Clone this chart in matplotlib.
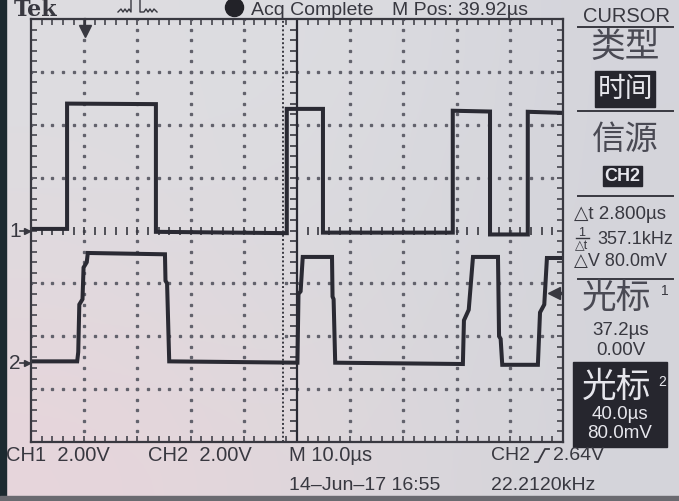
import numpy as np
import matplotlib.pyplot as plt
from matplotlib.patches import Rectangle

plt.rcParams['font.family'] = ['Liberation Sans', 'DejaVu Sans']

# scope settings
m_pos = 39.92        # us at screen centre
t_div = 10.0         # us/div
v_div = 2.0          # V/div (CH1 and CH2)
ch1_ground = 0.0     # div
ch2_ground = -2.5    # div
trig_level = 2.64    # V, CH2 rising
trig_time = 0.0      # us
cursor1_t = 37.2
cursor2_t = 40.0

# CH1 trace corners (us, V)
ch1_t = [-10.08, -3.3, -3.3, 13.4, 13.4, 38.0, 38.0, 44.8, 44.8, 69.2, 69.2,
         76.2, 76.2, 83.3, 83.3, 89.92]
ch1_v = [0.06, 0.06, 4.8, 4.78, -0.05, -0.1, 4.6, 4.6, -0.08, -0.08, 4.53,
         4.5, -0.15, -0.15, 4.49, 4.45]

# CH2 trace corners (us, V)
ch2_t = [-10.08, -1.4, -1.2, -1.0, -0.4, -0.2, 0.4, 0.6,
         15.1, 15.2, 15.5, 15.9,
         40.0, 40.2, 40.6, 41.0,
         46.5, 46.6, 46.8, 47.1,
         71.1, 71.3, 72.2, 73.0,
         77.7, 77.9, 78.2, 78.5,
         85.2, 85.6, 86.4, 86.9, 89.92]
ch2_v = [0.05, 0.05, 0.4, 2.2, 2.4, 3.6, 3.8, 4.15,
         4.1, 3.1, 3.0, 0.05,
         0.0, 2.6, 2.7, 4.0,
         4.0, 2.5, 2.4, 0.0,
         -0.05, 1.6, 2.0, 4.0,
         4.0, 1.0, 0.9, -0.08,
         -0.08, 1.9, 2.2, 3.96, 3.96]

ink = '#383840'
trace = '#2a2a33'
W, H = 679, 502

fig = plt.figure(figsize=(W / 100, H / 100), dpi=100)

# full-figure axes in pixel coords for the screen background and texts
bg = fig.add_axes([0, 0, 1, 1])
bg.set_xlim(0, W)
bg.set_ylim(H, 0)
bg.axis('off')
glow = np.array([[[221, 221, 225], [221, 221, 225], [212, 212, 219]],
                 [[224, 218, 222], [218, 218, 222], [212, 212, 218]],
                 [[231, 213, 219], [222, 216, 220], [212, 212, 218]]]) / 255
bg.imshow(glow, extent=[0, W, H, 0], interpolation='bicubic', aspect='auto')
bg.add_patch(Rectangle((0, 0), 6, H, color='#1c2a30'))
bg.add_patch(Rectangle((0, 497), W, 5, color='#6a6a70'))


def txt(x, y, s, size=14, ha='left', color=ink, va='center', **kw):
    bg.text(x, y, s, fontsize=size, ha=ha, va=va, color=color, **kw)


# top status line
bg.text(14, 16, 'Tek', fontsize=16, fontweight='bold', family='DejaVu Serif',
        color=ink, va='baseline')
bg.plot([118, 121, 123, 125, 127, 129, 131, 131, 140, 140, 144, 146, 148, 150, 152, 154, 157],
        [13, 10, 13, 10, 13, 10, 13, 0, 0, 13, 13, 10, 13, 10, 13, 10, 13],
        color=ink, lw=1)
bg.plot([234], [8], 'o', ms=13, color='#222228')
txt(251, 15, 'Acq Complete', 14, va='baseline')
txt(392, 15, 'M Pos: 39.92\u00b5s', 14, va='baseline')

# graticule
ax = fig.add_axes([31 / W, 1 - 443 / H, 532 / W, 423 / H])
ax.set_facecolor('none')
ax.set_xlim(m_pos - 5 * t_div, m_pos + 5 * t_div)
ax.set_ylim(-4, 4)
x0 = m_pos - 5 * t_div
ax.set_xticks(np.arange(x0, x0 + 10 * t_div + 0.01, t_div / 5))
ax.set_yticks(np.arange(-4, 4.01, 0.2))
ax.tick_params(direction='in', length=4.5, width=1.1, color=ink,
               top=True, right=True, labelbottom=False, labelleft=False)
for sp in ax.spines.values():
    sp.set_color(ink)
    sp.set_linewidth(1.6)

fine_x = np.arange(x0, x0 + 10 * t_div + 0.01, t_div / 5)
fine_y = np.arange(-4, 4.01, 0.2)
for i in range(1, 10):
    if i == 5:
        continue
    ax.plot(np.full_like(fine_y, x0 + i * t_div), fine_y, ls='none',
            marker='s', ms=1.4, color='#62626c')
for j in range(-3, 4):
    if j == 0:
        continue
    ax.plot(fine_x, np.full_like(fine_x, j), ls='none', marker='s', ms=1.4,
            color='#62626c')
# centre-axis ticks
ax.plot(fine_x, np.zeros_like(fine_x), ls='none', marker='|', ms=6, mew=1.2,
        color=ink)
ax.plot(np.full_like(fine_y, m_pos - 0.6), fine_y, ls='none', marker='_',
        ms=6, mew=1.2, color=ink)

# cursors
ax.axvline(cursor1_t, color=ink, lw=1.4, ls=(0, (1, 1.2)))
ax.axvline(cursor2_t, color=trace, lw=1.6)

# traces
ax.plot(ch1_t, ch1_ground + np.array(ch1_v) / v_div, color=trace, lw=2.9,
        solid_joinstyle='miter')
ax.plot(ch2_t, ch2_ground + np.array(ch2_v) / v_div, color=trace, lw=2.9,
        solid_joinstyle='miter')

# markers: trigger position, trigger level, channel grounds
ax.plot([trig_time, trig_time], [4, 3.85], color=ink, lw=1.6, clip_on=False)
ax.plot([trig_time], [3.78], marker='v', ms=9, color=ink, clip_on=False)
ax.plot([m_pos + 5 * t_div - 1.6], [ch2_ground + trig_level / v_div],
        marker='<', ms=9, color=ink)
ax.plot([m_pos + 5 * t_div - 1.6, m_pos + 5 * t_div - 0.2],
        [ch2_ground + trig_level / v_div] * 2, color=ink, lw=2.5)
for lab, g in (('1', ch1_ground), ('2', ch2_ground)):
    yy = 231.5 - g * 52.9
    txt(9, yy, lab, 15)
    bg.plot([20, 29], [yy, yy], color=ink, lw=1.2)
    bg.plot([27], [yy], marker='>', ms=5, color=ink)

# bottom status lines
txt(6, 456, 'CH1  2.00V', 14.5)
txt(148, 456, 'CH2  2.00V', 14.5)
txt(289, 456, 'M 10.0\u00b5s', 14.5)
txt(491, 456, 'CH2', 14)
bg.plot([535, 538, 545, 549], [463, 463, 450, 450], color=ink, lw=1.3)
txt(553, 456, '2.64V', 14)
txt(289, 486, '14\u2013Jun\u201317 16:55', 14)
txt(491, 486, '22.2120kHz', 14)

# right-hand cursor menu
cjk = ['Noto Sans CJK SC', 'DejaVu Sans']
cjk_ink = '#4a4a54'
light = '#e6e6ec'
box = '#26262e'
txt(627, 17, 'CURSOR', 14.5, ha='center')
for yl in (28, 112, 197, 280):
    bg.plot([578, 673], [yl, yl], color=ink, lw=1.4)
txt(625, 48, '类型', 25, ha='center', family=cjk, color=cjk_ink)
bg.add_patch(Rectangle((595, 72), 60, 36, color=box))
txt(625, 89, '时间', 20, ha='center', color=light, family=cjk)
txt(625, 139, '信源', 24, ha='center', family=cjk, color=cjk_ink)
bg.add_patch(Rectangle((603, 167), 39, 20, color=box))
txt(622, 177, 'CH2', 13, ha='center', color=light, fontweight='bold')
txt(574, 215, '\u25b3t 2.800\u00b5s', 13.5)
txt(582, 233, '1', 9, ha='center')
bg.plot([576, 589], [239, 239], color=ink, lw=1)
txt(582, 246, '\u25b3t', 9, ha='center')
txt(597, 240, '357.1kHz', 13)
txt(574, 262, '\u25b3V 80.0mV', 13)
txt(617, 298, '光标', 25, ha='center', family=cjk, color=cjk_ink)
txt(665, 291, '1', 10, ha='center')
txt(621, 331, '37.2\u00b5s', 13.5, ha='center')
txt(621, 351, '0.00V', 13.5, ha='center')
bg.add_patch(Rectangle((573, 363), 94, 85, color=box))
txt(617, 387, '光标', 25, ha='center', color=light, family=cjk)
txt(662, 382, '2', 10, ha='center', color=light)
txt(620, 415, '40.0\u00b5s', 13.5, ha='center', color=light)
txt(620, 434, '80.0mV', 13.5, ha='center', color=light)

fig.savefig('out.png', dpi=100)
